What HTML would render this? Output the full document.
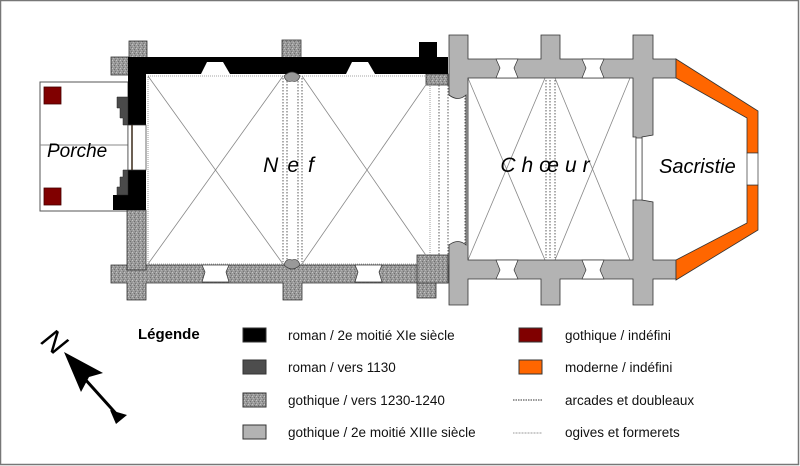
<!DOCTYPE html>
<html><head><meta charset="utf-8"><style>
html,body{margin:0;padding:0;background:#fff}
svg{display:block}
text{font-family:"Liberation Sans",sans-serif}
</style></head><body>
<svg width="800" height="466" viewBox="0 0 800 466" xmlns="http://www.w3.org/2000/svg">
<defs>
<pattern id="sp" width="4" height="4" patternUnits="userSpaceOnUse">
<rect width="4" height="4" fill="#999"/>
<rect x="0" y="0" width="1" height="1" fill="#c4c4c4"/>
<rect x="2" y="1" width="1" height="1" fill="#6e6e6e"/>
<rect x="1" y="2" width="1" height="1" fill="#b4b4b4"/>
<rect x="3" y="3" width="1" height="1" fill="#777"/>
</pattern>
</defs>
<rect x="0.5" y="0.5" width="798" height="464" fill="#fff" stroke="#777" stroke-width="1.5"/>

<!-- Porch -->
<rect x="40" y="82" width="88" height="129" fill="#fff" stroke="#555" stroke-width="1"/>
<line x1="40" y1="145" x2="128" y2="145" stroke="#888" stroke-width="1"/>
<rect x="44" y="87" width="17" height="17" fill="#800000" stroke="#400" stroke-width="0.8"/>
<rect x="44" y="188" width="17" height="17" fill="#800000" stroke="#400" stroke-width="0.8"/>
<text x="47" y="157" font-size="19" font-style="italic">Porche</text>

<!-- Nave speckled parts -->
<g fill="url(#sp)" stroke="#333" stroke-width="0.8">
<rect x="129" y="41" width="18" height="17"/>
<rect x="111" y="57" width="18" height="18"/>
<rect x="282" y="40" width="19" height="18"/>
<rect x="426" y="74" width="22" height="11"/>
<path d="M111 265 H448 V283 H436 V298 H417 V283 H302 V300 H283 V283 H146 V300 H127 V283 H111 Z"/>
<path d="M417 255 H448 V283 H417 Z"/>
<rect x="127" y="210" width="19" height="60"/>
</g>
<g fill="#fff" stroke="#333" stroke-width="0.7">
<path d="M202 265 H229 L226 272 L229 282 H202 L205 272 Z"/>
<path d="M355 265 H382 L379 272 L382 282 H355 L358 272 Z"/>
</g>
<!-- black romanesque -->
<g fill="#000">
<path d="M128 57 H448 V74 H146 V125 H128 Z"/>
<rect x="419" y="42" width="18" height="16"/>
<path d="M128 170 H146 V210 H113 V195 H128 Z"/>
</g>
<g fill="#fff">
<path d="M201 74 L207 62 H223 L230 74 Z"/>
<path d="M346 74 L352 62 H368 L375 74 Z"/>
</g>
<g fill="#4a4a4a" stroke="#222" stroke-width="0.5">
<path d="M117 97 H128 V125 H123 V118 H120 V108 H117 Z"/>
<path d="M117 195 H128 V170 H123 V177 H120 V187 H117 Z"/>
</g>
<rect x="128" y="125" width="18" height="45" fill="#fff" stroke="#333" stroke-width="0.7"/>
<line x1="132" y1="125" x2="132" y2="170" stroke="#3a2a1a" stroke-width="1.5"/>

<!-- vault lines -->
<g stroke="#888" stroke-width="0.8" fill="none">
<rect x="148" y="76" width="282" height="188" stroke-dasharray="1 1"/>
<line x1="148" y1="76" x2="283" y2="264"/><line x1="283" y1="76" x2="148" y2="264"/>
<line x1="302" y1="76" x2="432" y2="264"/><line x1="432" y1="76" x2="302" y2="264"/>
<line x1="468" y1="78" x2="545" y2="260"/><line x1="545" y1="78" x2="468" y2="260"/>
<line x1="555" y1="78" x2="630" y2="260"/><line x1="630" y1="78" x2="555" y2="260"/>
</g>
<g stroke="#333" stroke-width="0.8" stroke-dasharray="1.5 1.5" fill="none">
<line x1="283" y1="78" x2="283" y2="262"/><line x1="287" y1="78" x2="287" y2="262"/>
<line x1="298" y1="78" x2="298" y2="262"/><line x1="302" y1="78" x2="302" y2="262"/>
<line x1="439" y1="85" x2="439" y2="255"/><line x1="448" y1="85" x2="448" y2="255"/>
<line x1="465" y1="95" x2="465" y2="245"/>
<line x1="546" y1="80" x2="546" y2="258"/><line x1="550" y1="80" x2="550" y2="258"/>
<line x1="555" y1="80" x2="555" y2="258"/>
</g>
<g fill="#999" stroke="#333" stroke-width="0.6">
<path d="M284 76 Q292 68 300 76 Q298 83 292 81 Q286 83 284 76 Z"/>
<path d="M284 265 Q292 273 300 265 Q298 258 292 260 Q286 258 284 265 Z"/>
</g>

<!-- Choir gray -->
<g fill="#b3b3b3" stroke="#333" stroke-width="0.8">
<path d="M449 35 H468 V59 H541 V35 H560 V59 H633 V35 H653 V59 H676 V78 H653 V135 L642 137 V200 L653 202 V260 H676 V279 H653 V305 H633 V279 H560 V305 H541 V279 H468 V305 H449 V245 Q458 238 466 245 V95 Q458 102 449 95 Z M468 78 V260 H633 V200 L636 200 V137 L633 137 V78 Z"/>
</g>
<g fill="#fff" stroke="#333" stroke-width="0.7">
<path d="M496 59 H518 L514 68 L518 78 H496 L500 68 Z"/>
<path d="M582 59 H604 L600 68 L604 78 H582 L586 68 Z"/>
<path d="M496 260 H518 L514 270 L518 279 H496 L500 270 Z"/>
<path d="M582 260 H604 L600 270 L604 279 H582 L586 270 Z"/>
<rect x="636" y="138" width="6" height="62"/>
</g>
<path d="M676 59 L758 111 V153 H747 V118 L676 78 Z" fill="#ff6600" stroke="#333" stroke-width="0.8"/>
<path d="M676 280 L758 230 V185 H747 V223 L676 260 Z" fill="#ff6600" stroke="#333" stroke-width="0.8"/>
<rect x="747" y="153" width="11" height="32" fill="#fff" stroke="#333" stroke-width="0.7"/>

<text x="293" y="172" font-size="21" font-style="italic" text-anchor="middle" letter-spacing="9">Nef</text>
<text x="548" y="172" font-size="21" font-style="italic" text-anchor="middle" letter-spacing="6">Chœur</text>
<text x="659" y="173" font-size="20" font-style="italic">Sacristie</text>

<!-- compass -->
<text x="44" y="350" font-size="30" font-family="Liberation Serif,serif" font-style="italic" transform="rotate(40 52 340)">N</text>
<g fill="#000">
<path d="M64 352 L103 373 L89 377 L81 392 Z"/>
<line x1="84" y1="378" x2="120" y2="418" stroke="#000" stroke-width="3"/>
<path d="M110 410 L127 415 L116 424 Z"/>
</g>

<!-- legend -->
<text x="138" y="339" font-size="15" font-weight="bold">Légende</text>
<g stroke="#333" stroke-width="1">
<rect x="243" y="328" width="23" height="14" fill="#000"/>
<rect x="243" y="360" width="23" height="14" fill="#4d4d4d"/>
<rect x="243" y="393" width="23" height="14" fill="url(#sp)"/>
<rect x="243" y="425" width="23" height="14" fill="#b3b3b3"/>
<rect x="519" y="328" width="23" height="14" fill="#800000"/>
<rect x="519" y="360" width="23" height="14" fill="#ff6600"/>
</g>
<line x1="513" y1="400" x2="542" y2="400" stroke="#333" stroke-width="1" stroke-dasharray="1.5 1"/>
<line x1="513" y1="433" x2="542" y2="433" stroke="#999" stroke-width="1" stroke-dasharray="1 0.5"/>
<g font-size="13.5" fill="#111">
<text x="288" y="340">roman / 2e moitié XIe siècle</text>
<text x="288" y="372">roman / vers 1130</text>
<text x="288" y="405">gothique / vers 1230-1240</text>
<text x="288" y="437">gothique / 2e moitié XIIIe siècle</text>
<text x="565" y="340">gothique / indéfini</text>
<text x="565" y="372">moderne / indéfini</text>
<text x="565" y="405">arcades et doubleaux</text>
<text x="565" y="437">ogives et formerets</text>
</g>
</svg>
</body></html>
